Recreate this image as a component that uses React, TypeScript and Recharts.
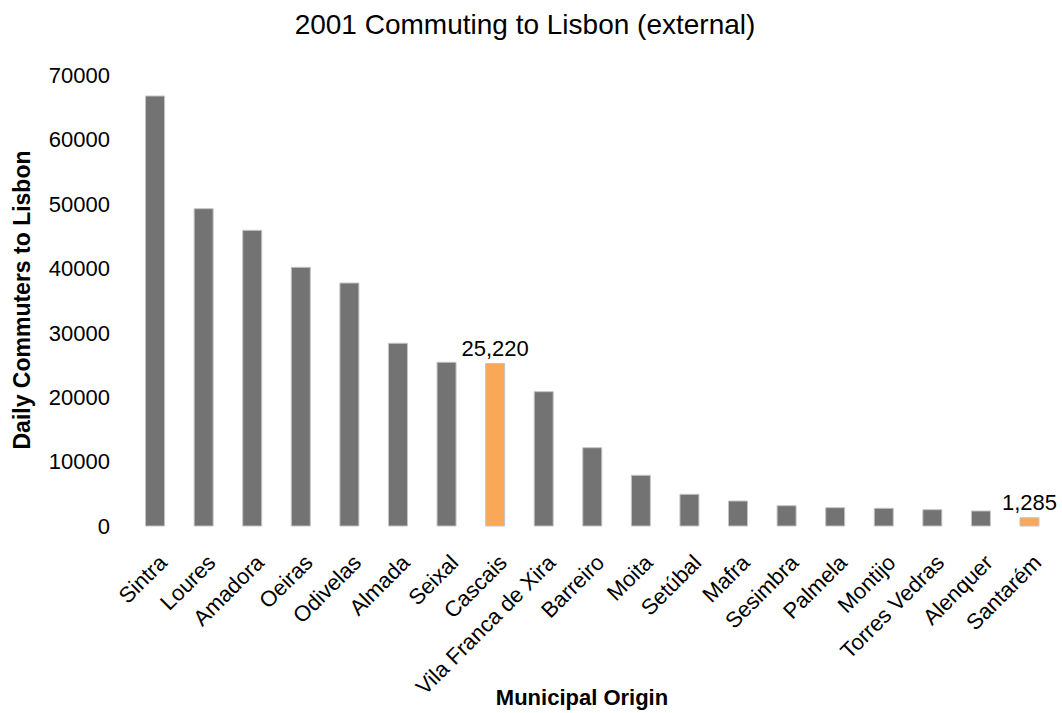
import React from 'react';
import { BarChart, Bar, XAxis, YAxis, Cell, LabelList } from 'recharts';

const categories = [
  'Sintra', 'Loures', 'Amadora', 'Oeiras', 'Odivelas', 'Almada', 'Seixal', 'Cascais',
  'Vila Franca de Xira', 'Barreiro', 'Moita', 'Setúbal', 'Mafra', 'Sesimbra', 'Palmela',
  'Montijo', 'Torres Vedras', 'Alenquer', 'Santarém',
];
const commuters = [
  66740, 49250, 45890, 40150, 37710, 28360, 25410, 25220,
  20850, 12150, 7870, 4920, 3880, 3150, 2840,
  2750, 2530, 2330, 1285,
];
const highlighted = ['Cascais', 'Santarém'];
const yTicks = [0, 10000, 20000, 30000, 40000, 50000, 60000, 70000];

const GRAY = '#737373';
const ORANGE = '#F9A857';
const FONT = "'Liberation Sans', Arial, sans-serif";

const data = categories.map((name, i) => ({ name, value: commuters[i] }));

const renderLabel = (props: any) => {
  const { x, y, width, value, index } = props;
  if (!highlighted.includes(categories[index])) return null;
  return (
    <text
      x={Number(x) + Number(width) / 2}
      y={Number(y) - 8}
      textAnchor="middle"
      fontSize={22}
      fill="#000"
      fontFamily={FONT}
    >
      {Number(value).toLocaleString('en-US')}
    </text>
  );
};

export default function App() {
  return (
    <div style={{ position: 'relative', width: 1062, height: 713, fontFamily: FONT }}>
      <style>{`body{margin:0;}`}</style>
      <BarChart
        width={1062}
        height={713}
        data={data}
        margin={{ top: 75, right: 8, bottom: 0, left: 0 }}
        barCategoryGap="30%"
      >
        <XAxis
          dataKey="name"
          interval={0}
          axisLine={false}
          tickLine={false}
          height={187}
          angle={-45}
          tickMargin={21}
          tick={{ textAnchor: 'end', fontSize: 22, fill: '#000', fontFamily: FONT, dx: 2 }}
        />
        <YAxis
          width={131}
          domain={[0, 70000]}
          ticks={yTicks}
          interval={0}
          axisLine={false}
          tickLine={false}
          tickMargin={15}
          tick={{ fontSize: 22, fill: '#000', fontFamily: FONT }}
        />
        <Bar dataKey="value" isAnimationActive={false} stroke="#c4c4c4" strokeWidth={1}>
          {data.map((d) => (
            <Cell key={d.name} fill={highlighted.includes(d.name) ? ORANGE : GRAY} />
          ))}
          <LabelList dataKey="value" content={renderLabel} />
        </Bar>
      </BarChart>
      <svg
        width={1062}
        height={713}
        style={{ position: 'absolute', left: 0, top: 0, pointerEvents: 'none' }}
      >
        <text x={525} y={34} textAnchor="middle" fontSize={28} fill="#000" fontFamily={FONT}>
          2001 Commuting to Lisbon (external)
        </text>
        <text
          x={30}
          y={300}
          textAnchor="middle"
          fontSize={23}
          fontWeight="bold"
          fill="#000"
          fontFamily={FONT}
          transform="rotate(-90, 30, 300)"
        >
          Daily Commuters to Lisbon
        </text>
        <text x={582} y={705} textAnchor="middle" fontSize={22} fontWeight="bold" fill="#000" fontFamily={FONT}>
          Municipal Origin
        </text>
      </svg>
    </div>
  );
}
